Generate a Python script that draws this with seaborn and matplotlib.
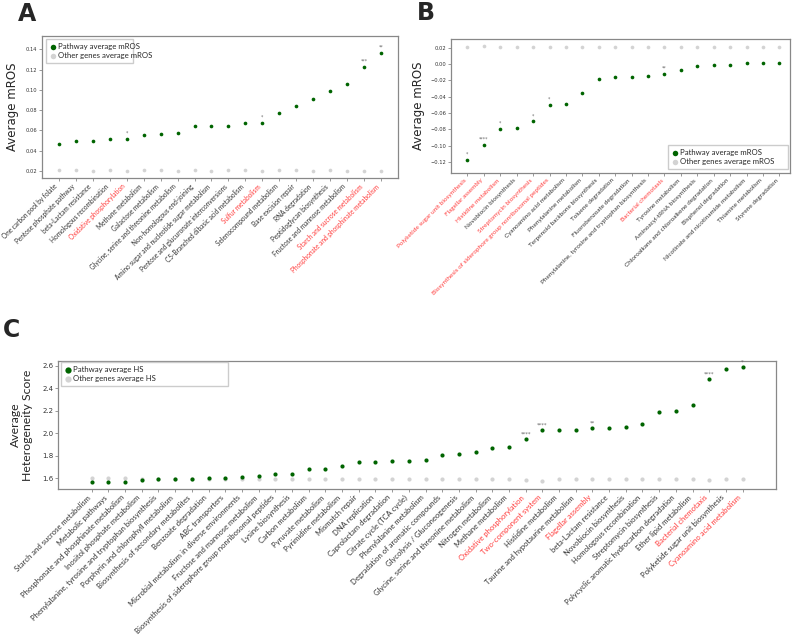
"""Pathway-level mROS and heterogeneity score summaries (panels A, B, C)."""
import numpy as np
import matplotlib
matplotlib.use("Agg")
import matplotlib.pyplot as plt
import seaborn as sns

sns.set_theme(style="ticks")
plt.rcParams["font.family"] = ["Lato", "DejaVu Sans"]

GREEN = "#006400"
GRAY = "#d3d3d3"
RED = "#ff3b3b"
TEXT = "#333333"
SPINE = "#888888"

# ---- panel A: pathways with highest average mROS ----
a_pathways = [
    "One carbon pool by folate", "Pentose phosphate pathway", "beta-Lactam resistance",
    "Homologous recombination", "Oxidative phosphorylation", "Methane metabolism",
    "Galactose metabolism", "Glycine, serine and threonine metabolism",
    "Non-homologous end-joining", "Amino sugar and nucleotide sugar metabolism",
    "Pentose and glucuronate interconversions", "C5-Branched dibasic acid metabolism",
    "Sulfur metabolism", "Selenocompound metabolism", "Base excision repair",
    "RNA degradation", "Peptidoglycan biosynthesis", "Fructose and mannose metabolism",
    "Starch and sucrose metabolism", "Phosphonate and phosphinate metabolism",
]
a_pathway_mros = [0.0467, 0.0494, 0.0497, 0.0517, 0.052, 0.0554, 0.0567, 0.0573, 0.064, 0.0644,
                  0.0644, 0.067, 0.0674, 0.077, 0.084, 0.091, 0.099, 0.1055, 0.1226, 0.1367]
a_other_mros = [0.021, 0.021, 0.0205, 0.021, 0.0205, 0.021, 0.021, 0.0205, 0.021, 0.0205,
                0.021, 0.021, 0.0205, 0.021, 0.021, 0.0205, 0.021, 0.0205, 0.0205, 0.0205]
a_stars = ["", "", "", "", "*", "", "", "", "", "", "", "", "*", "", "", "", "", "", "***", "**"]
a_red = ["Oxidative phosphorylation", "Sulfur metabolism", "Starch and sucrose metabolism",
         "Phosphonate and phosphinate metabolism"]

# ---- panel B: pathways with lowest average mROS ----
b_pathways = [
    "Polyketide sugar unit biosynthesis", "Flagellar assembly", "Histidine metabolism",
    "Novobiocin biosynthesis", "Streptomycin biosynthesis",
    "Biosynthesis of siderophore group nonribosomal peptides", "Cyanoamino acid metabolism",
    "Phenylalanine metabolism", "Terpenoid backbone biosynthesis", "Toluene degradation",
    "Fluorobenzoate degradation", "Phenylalanine, tyrosine and tryptophan biosynthesis",
    "Bacterial chemotaxis", "Tyrosine metabolism", "Aminoacyl-tRNA biosynthesis",
    "Chloroalkane and chloroalkene degradation", "Bisphenol degradation",
    "Nicotinate and nicotinamide metabolism", "Thiamine metabolism", "Styrene degradation",
]
b_pathway_mros = [-0.1175, -0.099, -0.0795, -0.078, -0.070, -0.050, -0.049, -0.035, -0.0188, -0.016,
                  -0.016, -0.0143, -0.0118, -0.0077, -0.0025, -0.0012, -0.001, 0.0008, 0.001, 0.0017]
b_other_mros = [0.0205, 0.022, 0.0205, 0.0205, 0.0205, 0.0205, 0.0205, 0.0205, 0.0205, 0.0205,
                0.0205, 0.0205, 0.021, 0.0205, 0.0205, 0.0205, 0.0205, 0.0205, 0.0205, 0.0205]
b_stars = ["*", "****", "*", "", "*", "*", "", "", "", "", "", "", "**", "", "", "", "", "", "", ""]
b_red = ["Polyketide sugar unit biosynthesis", "Flagellar assembly", "Histidine metabolism",
         "Streptomycin biosynthesis", "Biosynthesis of siderophore group nonribosomal peptides",
         "Bacterial chemotaxis"]

# ---- panel C: average heterogeneity score ----
c_pathways = [
    "Starch and sucrose metabolism", "Metabolic pathways", "Phosphonate and phosphinate metabolism",
    "Inositol phosphate metabolism", "Phenylalanine, tyrosine and tryptophan biosynthesis",
    "Porphyrin and chlorophyll metabolism", "Biosynthesis of secondary metabolites",
    "Benzoate degradation", "ABC transporters", "Microbial metabolism in diverse environments",
    "Fructose and mannose metabolism", "Biosynthesis of siderophore group nonribosomal peptides",
    "Lysine biosynthesis", "Carbon metabolism", "Pyruvate metabolism", "Pyrimidine metabolism",
    "Mismatch repair", "DNA replication", "Caprolactam degradation", "Citrate cycle (TCA cycle)",
    "Phenylalanine metabolism", "Degradation of aromatic compounds", "Glycolysis / Gluconeogenesis",
    "Glycine, serine and threonine metabolism", "Nitrogen metabolism", "Methane metabolism",
    "Oxidative phosphorylation", "Two-component system", "Histidine metabolism",
    "Taurine and hypotaurine metabolism", "Flagellar assembly", "beta-Lactam resistance",
    "Novobiocin biosynthesis", "Homologous recombination", "Streptomycin biosynthesis",
    "Polycyclic aromatic hydrocarbon degradation", "Ether lipid metabolism", "Bacterial chemotaxis",
    "Polyketide sugar unit biosynthesis", "Cyanoamino acid metabolism",
]
c_pathway_hs = [1.565, 1.565, 1.57, 1.582, 1.59, 1.595, 1.595, 1.605, 1.605, 1.613,
                1.622, 1.634, 1.638, 1.683, 1.687, 1.712, 1.747, 1.747, 1.752, 1.756,
                1.765, 1.81, 1.82, 1.835, 1.865, 1.874, 1.948, 2.027, 2.027, 2.033,
                2.045, 2.045, 2.057, 2.086, 2.192, 2.198, 2.254, 2.481, 2.567, 2.585]
c_other_hs = [1.60, 1.60, 1.60, 1.594, 1.592, 1.592, 1.592, 1.592, 1.592, 1.592,
              1.592, 1.592, 1.592, 1.592, 1.592, 1.592, 1.592, 1.592, 1.592, 1.592,
              1.592, 1.592, 1.592, 1.592, 1.592, 1.592, 1.585, 1.578, 1.592, 1.592,
              1.592, 1.592, 1.592, 1.592, 1.592, 1.592, 1.592, 1.581, 1.592, 1.592]
c_stars = [""] * 26 + ["****", "****", "", "", "**", "", "", "", "", "", "", "****", "", "*"]
c_red = ["Oxidative phosphorylation", "Two-component system", "Flagellar assembly",
         "Bacterial chemotaxis", "Cyanoamino acid metabolism"]


def draw_panel(ax, names, pathway, other, stars, red, metric, xlim, ylim, yticks,
               size, xfs, yfs, star_fs):
    x = np.arange(len(names))
    sns.scatterplot(x=x, y=pathway, color=GREEN, s=size, linewidth=0, zorder=3,
                    label=f"Pathway average {metric}", ax=ax)
    sns.scatterplot(x=x, y=other, color=GRAY, s=size, linewidth=0, zorder=2,
                    label=f"Other genes average {metric}", ax=ax)
    for i, st in enumerate(stars):
        if st:
            ax.annotate(st, (x[i], pathway[i]), xytext=(0, 2.2), textcoords="offset points",
                        ha="center", va="bottom", fontsize=star_fs, color="#666666",
                        family="DejaVu Sans")
    ax.set_xlim(*xlim)
    ax.set_ylim(*ylim)
    ax.set_xticks(x)
    ax.set_xticklabels(names, rotation=45, ha="right", fontsize=xfs)
    for lab in ax.get_xticklabels():
        lab.set_color(RED if lab.get_text() in red else TEXT)
    ax.set_yticks(yticks)
    ax.set_yticklabels([f"{v:.2f}".replace("-", "\u2212") if metric == "mROS" else f"{v:.1f}"
                        for v in yticks], fontsize=yfs, family="DejaVu Sans", color=TEXT)
    for sp in ax.spines.values():
        sp.set_color(SPINE)
        sp.set_linewidth(0.9)
    ax.tick_params(length=2, width=0.6, color=SPINE, pad=1.5)


fig = plt.figure(figsize=(7.96, 6.36), dpi=100)
ax_a = fig.add_axes([0.0528, 0.720, 0.447, 0.223])
ax_b = fig.add_axes([0.5666, 0.728, 0.426, 0.211])
ax_c = fig.add_axes([0.0733, 0.2311, 0.9016, 0.2013])

draw_panel(ax_a, a_pathways, a_pathway_mros, a_other_mros, a_stars, a_red, "mROS",
           (-1, 20), (0.0131, 0.1528), np.arange(0.02, 0.141, 0.02), 7, 4.7, 3.7, 3.3)
draw_panel(ax_b, b_pathways, b_pathway_mros, b_other_mros, b_stars, b_red, "mROS",
           (-1, 19.65), (-0.1333, 0.0307), np.arange(-0.12, 0.021, 0.02), 7, 4.6, 3.7, 3.3)
draw_panel(ax_c, c_pathways, c_pathway_hs, c_other_hs, c_stars, c_red, "HS",
           (-2, 41), (1.505, 2.642), np.arange(1.6, 2.61, 0.2), 9, 5.5, 5.0, 3.8)

ax_a.set_ylabel("Average mROS", fontsize=8.5, family="DejaVu Sans", labelpad=5)
ax_b.set_ylabel("Average mROS", fontsize=8.5, family="DejaVu Sans", labelpad=4)
ax_c.set_ylabel("Average\nHeterogeneity Score", fontsize=8.8, labelpad=7, linespacing=1.1)

leg_kw = dict(mode="expand", borderaxespad=0, fontsize=5.6, markerscale=1.5, frameon=True,
              fancybox=False, edgecolor="#cccccc", framealpha=1, handletextpad=0.2,
              handlelength=0.8, borderpad=0.5, labelspacing=0.3)
ax_a.legend(loc="upper left", bbox_to_anchor=(0.011, 0.5, 0.244, 0.479), **leg_kw)
ax_b.legend(loc="lower left", bbox_to_anchor=(0.640, 0.03, 0.355, 0.3), **leg_kw)
ax_c.legend(loc="upper left", bbox_to_anchor=(0.004, 0.5, 0.233, 0.492), **leg_kw)

fig.text(0.023, 0.967, "A", fontsize=17, fontweight="heavy", family="DejaVu Sans")
fig.text(0.524, 0.969, "B", fontsize=17, fontweight="heavy", family="DejaVu Sans")
fig.text(0.003, 0.470, "C", fontsize=17, fontweight="heavy", family="DejaVu Sans")

fig.savefig("out.png", dpi=100)
plt.close(fig)
